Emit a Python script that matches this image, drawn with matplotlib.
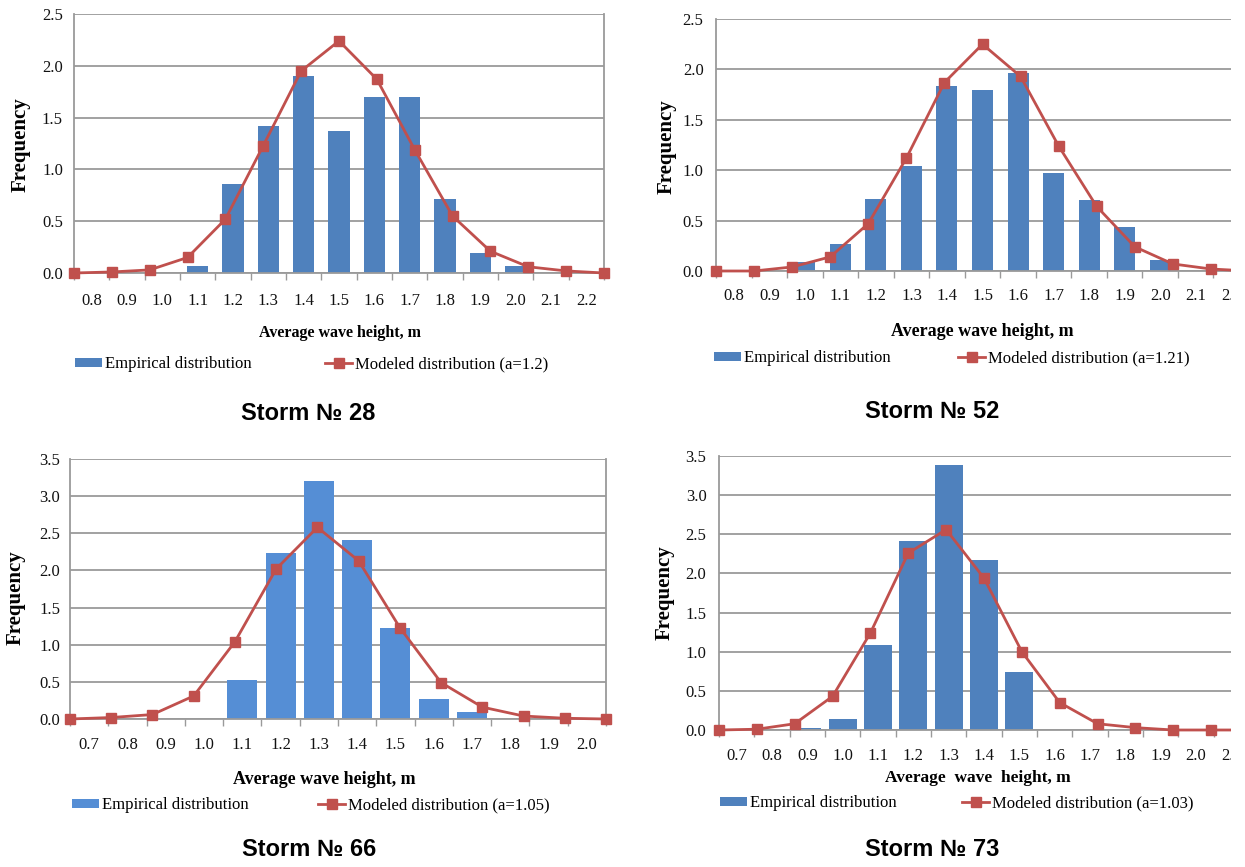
import matplotlib
matplotlib.use("Agg")
import matplotlib.pyplot as plt
import numpy as np
from matplotlib.patches import Rectangle

# ---------------- data ----------------
cats_28 = ["0.8", "0.9", "1.0", "1.1", "1.2", "1.3", "1.4", "1.5", "1.6", "1.7", "1.8", "1.9", "2.0", "2.1", "2.2"]
emp_28 = [0, 0, 0, 0.07, 0.86, 1.42, 1.90, 1.37, 1.70, 1.70, 0.71, 0.19, 0.07, 0, 0]
mod_28 = [0.0, 0.01, 0.03, 0.15, 0.52, 1.23, 1.95, 2.24, 1.87, 1.19, 0.55, 0.21, 0.06, 0.02, 0.0]

cats_52 = ["0.8", "0.9", "1.0", "1.1", "1.2", "1.3", "1.4", "1.5", "1.6", "1.7", "1.8", "1.9", "2.0", "2.1", "2.2"]
emp_52 = [0, 0, 0.09, 0.27, 0.71, 1.04, 1.84, 1.80, 1.96, 0.97, 0.70, 0.44, 0.11, 0, 0]
mod_52 = [0.0, 0.0, 0.04, 0.14, 0.47, 1.12, 1.87, 2.25, 1.93, 1.24, 0.64, 0.24, 0.07, 0.02, 0.0]

cats_66 = ["0.7", "0.8", "0.9", "1.0", "1.1", "1.2", "1.3", "1.4", "1.5", "1.6", "1.7", "1.8", "1.9", "2.0"]
emp_66 = [0, 0, 0, 0, 0.53, 2.23, 3.21, 2.41, 1.23, 0.27, 0.09, 0, 0, 0]
mod_66 = [0.0, 0.02, 0.06, 0.31, 1.04, 2.02, 2.58, 2.13, 1.23, 0.49, 0.16, 0.04, 0.01, 0.0]

cats_73 = ["0.7", "0.8", "0.9", "1.0", "1.1", "1.2", "1.3", "1.4", "1.5", "1.6", "1.7", "1.8", "1.9", "2.0", "2.1"]
emp_73 = [0, 0, 0.03, 0.14, 1.08, 2.42, 3.38, 2.17, 0.74, 0, 0, 0, 0, 0, 0]
mod_73 = [0.0, 0.01, 0.08, 0.43, 1.24, 2.26, 2.56, 1.94, 1.00, 0.35, 0.08, 0.03, 0.0, 0.0, 0.0]

titles = ["Storm № 28", "Storm № 52", "Storm № 66", "Storm № 73"]
model_labels = ["Modeled distribution (a=1.2)", "Modeled distribution (a=1.21)",
                "Modeled distribution (a=1.05)", "Modeled distribution (a=1.03)"]
xlabels = ["Average wave height, m", "Average wave height, m",
           "Average wave height, m", "Average  wave  height, m"]

# ---------------- layout ----------------
W, H = 1245, 867
fig = plt.figure(figsize=(W / 100, H / 100), dpi=100)
fig.patch.set_facecolor("white")

SERIF = ["Liberation Serif", "DejaVu Serif"]
SANS = ["Liberation Sans", "DejaVu Sans"]
RED = "#C0504D"
GRID = "#9a9a9a"

panels = [
    dict(cats=cats_28, emp=emp_28, mod=mod_28, box=(74, 604, 14, 273), ymax=2.5, bw=0.60,
         color="#4F81BD", xl=(340, 333, 11.5), yl=(21, 145), leg=(75, 325, 364),
         title=(308, 413), xpad=14.5, ypad=8),
    dict(cats=cats_52, emp=emp_52, mod=mod_52, box=(716, 1249, 19, 271), ymax=2.5, bw=0.59,
         color="#4F81BD", xl=(982, 332, 13), yl=(667, 147), leg=(714, 958, 358),
         title=(932, 412), xpad=12.5, ypad=9),
    dict(cats=cats_66, emp=emp_66, mod=mod_66, box=(70, 606, 459, 719), ymax=3.5, bw=0.78,
         color="#558ED5", xl=(324, 780, 13), yl=(16, 598), leg=(72, 318, 805),
         title=(309, 849), xpad=13, ypad=7),
    dict(cats=cats_73, emp=emp_73, mod=mod_73, box=(719, 1249, 456, 730), ymax=3.5, bw=0.79,
         color="#4F81BD", xl=(978, 778, 12.5), yl=(665, 593), leg=(720, 962, 803),
         title=(932, 849), xpad=13, ypad=9),
]

renderer = fig.canvas.get_renderer()

for i, p in enumerate(panels):
    l, r, t, b = p["box"]
    ax = fig.add_axes([l / W, 1 - b / H, (r - l) / W, (b - t) / H])
    n = len(p["cats"])
    x = np.arange(n)
    bars = ax.bar(x, p["emp"], width=p["bw"], color=p["color"], zorder=2)
    ax.set_xlim(-0.5, n - 0.5)
    ax.set_ylim(0, p["ymax"])
    ax.set_yticks(np.arange(0, p["ymax"] + 0.01, 0.5))
    ax.set_yticklabels([f"{v:.1f}" for v in np.arange(0, p["ymax"] + 0.01, 0.5)],
                       family=SERIF, fontsize=12)
    ax.set_xticks(x)
    ax.set_xticklabels(p["cats"], family=SERIF, fontsize=12)
    ax.set_xticks(np.arange(n + 1) - 0.5, minor=True)
    ax.tick_params(axis="x", which="major", length=0, pad=p["xpad"], colors="#111111")
    ax.tick_params(axis="x", which="minor", length=5, width=1, color=GRID, direction="out")
    ax.tick_params(axis="y", length=0, pad=p["ypad"], colors="#111111")
    ax.grid(axis="y", color=GRID, linewidth=1.3)
    ax.set_axisbelow(True)
    for s in ["left", "bottom", "right"]:
        ax.spines[s].set_color(GRID)
        ax.spines[s].set_linewidth(1.3)
    ax.spines["top"].set_visible(False)

    # modelled distribution on its own category axis (points on tick marks)
    ax2 = ax.twiny()
    m = len(p["mod"])
    ax2.set_xlim(0, m - 1)
    line, = ax2.plot(np.arange(m), p["mod"], color=RED, linewidth=2, marker="s",
                     markersize=7.5, markerfacecolor=RED, markeredgecolor=RED,
                     clip_on=False, zorder=3)
    ax2.set_xticks([])
    for s in ax2.spines.values():
        s.set_visible(False)

    # axis titles
    cx, cy, fs = p["xl"]
    ax.set_xlabel(xlabels[i], family=SERIF, fontsize=fs, fontweight="bold")
    ax.xaxis.set_label_coords((cx - l) / (r - l), (b - cy) / (b - t))
    ax.xaxis.label.set_va("center")
    yx, yy = p["yl"]
    ax.set_ylabel("Frequency", family=SERIF, fontsize=15, fontweight="bold")
    ax.yaxis.set_label_coords((yx - l) / (r - l), (b - yy) / (b - t))
    ax.yaxis.label.set_va("center")
    ax.yaxis.label.set_ha("center")

    # legend
    px, rx, ly = p["leg"]
    lfs = 12
    fs_px = lfs * 100 / 72
    tmp = fig.text(0, 0, "Empirical distribution", family=SERIF, fontsize=lfs)
    tw = tmp.get_window_extent(renderer).width
    tmp.remove()
    hl_px, htp_px = 27, 3
    cs = (rx - px - hl_px - htp_px - tw) / fs_px
    ax.legend([bars, line], ["Empirical distribution", model_labels[i]], ncol=2,
              loc="center left", bbox_to_anchor=(px / W, 1 - ly / H),
              bbox_transform=fig.transFigure, frameon=False,
              handlelength=hl_px / fs_px, handletextpad=htp_px / fs_px,
              columnspacing=cs, borderaxespad=0, borderpad=0, handleheight=0.45,
              numpoints=1, prop=dict(family=SERIF, size=lfs))

    tx, ty = p["title"]
    fig.text(tx / W, 1 - ty / H, titles[i], family=SANS, fontsize=17,
             fontweight="bold", ha="center", va="center")

# the original picture is cropped at the right edge
fig.add_artist(Rectangle((1231 / W, 0), 1, 1, transform=fig.transFigure,
                         facecolor="white", edgecolor="none", zorder=100))

fig.savefig("out.png", dpi=100)
